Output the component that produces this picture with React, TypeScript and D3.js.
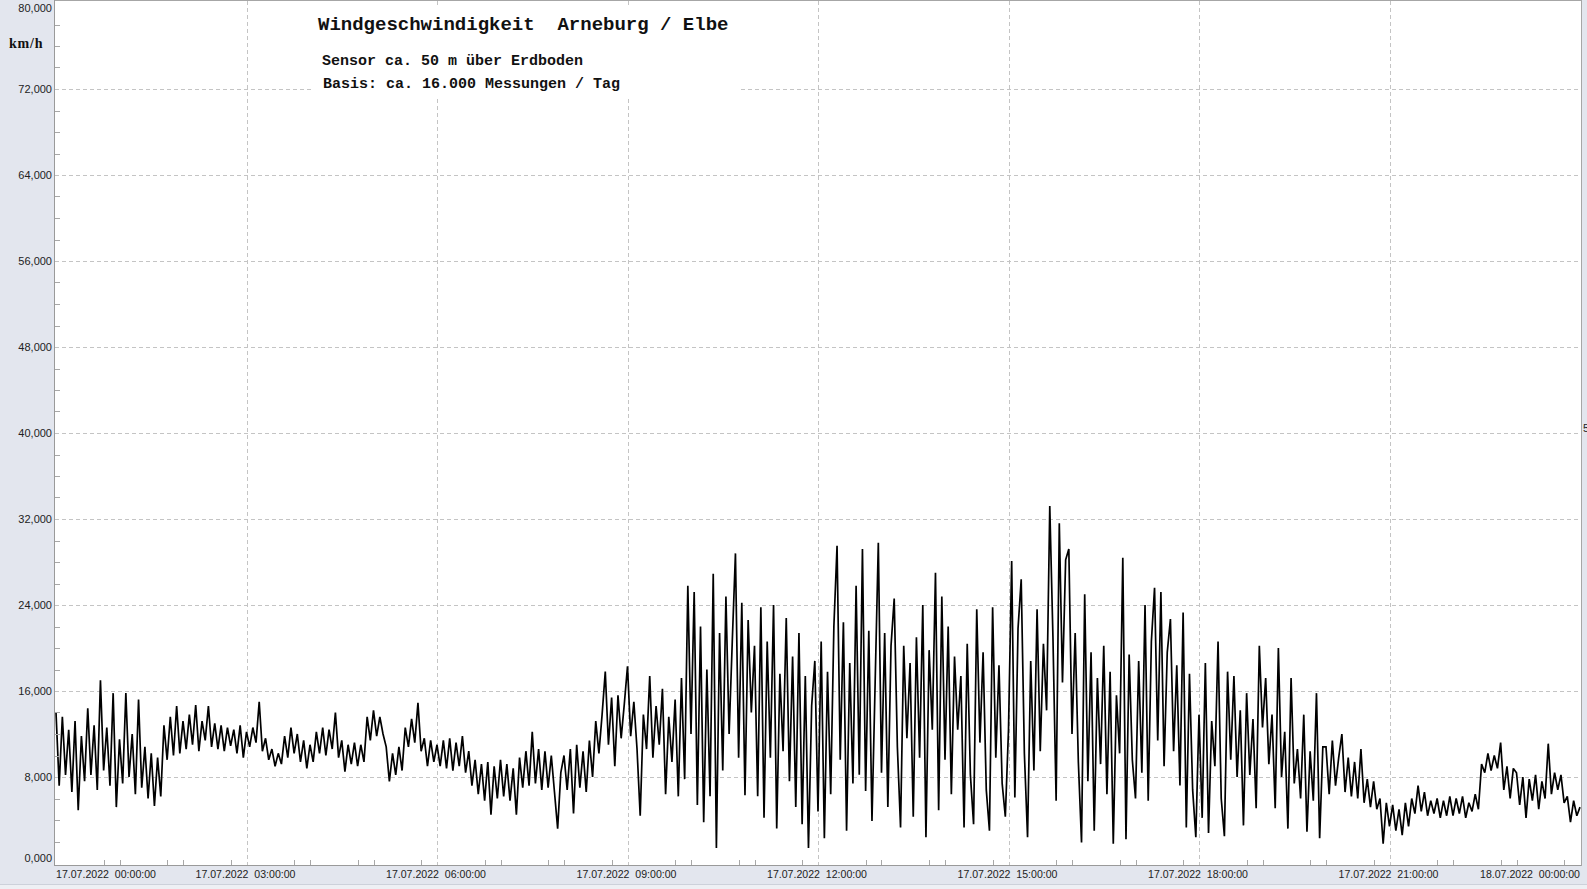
import React from "react";
import * as d3 from "d3";

// Wind speed in km/h, one value every 3 minutes, per 3-hour block (17.07.2022)
const speed00to03 = [
  14.0, 7.2, 13.6, 8.2, 12.4, 6.6, 13.2, 4.9, 11.8, 7.6, 14.4, 8.2, 12.8, 6.8, 17.0, 8.6, 12.6, 7.2, 15.8, 5.2,
  11.5, 7.4, 15.8, 8.0, 12.0, 6.4, 15.2, 7.0, 10.8, 6.0, 10.2, 5.3, 9.8, 6.2, 12.8, 9.6, 13.6, 10.0, 14.6, 10.2,
  13.2, 10.6, 13.8, 11.0, 14.7, 10.4, 13.2, 11.4, 14.6, 10.8, 13.0, 10.6, 12.8, 10.4, 12.6, 10.9, 12.4, 10.2, 12.8, 9.8,
];
const speed03to06 = [
  12.2, 10.8, 12.6, 11.2, 15.0, 10.4, 11.6, 9.6, 10.6, 9.0, 10.2, 9.2, 11.8, 9.8, 12.6, 10.2, 12.0, 9.4, 11.4, 8.8,
  11.0, 9.4, 12.2, 10.2, 12.6, 10.0, 12.4, 10.6, 14.0, 9.8, 11.4, 8.5, 11.0, 9.2, 11.2, 9.0, 11.0, 9.4, 13.6, 11.4,
  14.2, 11.8, 13.6, 12.0, 10.8, 7.6, 10.2, 8.2, 10.8, 8.6, 12.6, 10.8, 13.4, 11.2, 14.9, 10.4, 11.6, 9.0, 11.4, 9.4,
];
const speed06to09 = [
  11.0, 9.0, 11.4, 8.8, 11.6, 8.6, 11.2, 9.0, 11.8, 8.4, 10.4, 7.2, 9.6, 6.4, 9.2, 5.8, 9.4, 4.5, 9.0, 6.0,
  9.6, 6.2, 9.2, 5.8, 8.8, 4.5, 9.8, 7.0, 10.4, 7.2, 12.2, 7.4, 10.6, 6.8, 10.4, 7.0, 10.0, 6.6, 3.2, 8.4,
  10.0, 6.8, 10.6, 4.6, 11.0, 7.0, 10.4, 6.6, 11.4, 8.0, 13.2, 10.2, 13.8, 17.8, 11.0, 15.4, 9.0, 15.6, 11.6, 14.8,
];
const speed09to12 = [
  18.3, 11.8, 15.0, 10.6, 4.4, 13.8, 10.6, 17.4, 9.8, 14.6, 11.0, 16.2, 6.4, 13.6, 9.4, 15.2, 6.2, 17.2, 7.8, 25.8,
  12.0, 25.2, 5.4, 22.0, 3.8, 18.0, 6.2, 26.9, 1.4, 21.4, 8.6, 24.8, 12.0, 20.6, 28.8, 9.8, 24.2, 6.3, 22.6, 14.0,
  20.2, 6.2, 23.8, 4.2, 20.6, 9.8, 24.0, 3.2, 17.6, 10.4, 22.8, 7.6, 19.2, 5.2, 21.4, 3.6, 17.4, 1.4, 14.6, 18.8,
];
const speed12to15 = [
  4.8, 20.6, 2.3, 17.8, 6.4, 22.0, 29.5, 9.6, 22.4, 3.0, 18.6, 7.4, 25.8, 8.2, 29.2, 6.7, 21.6, 3.9, 16.8, 29.8,
  8.4, 21.4, 5.2, 20.2, 24.6, 10.8, 3.3, 20.2, 11.6, 18.6, 4.3, 21.0, 9.8, 24.0, 2.4, 19.8, 12.4, 27.0, 4.9, 24.8,
  9.6, 22.0, 6.4, 19.2, 12.4, 17.4, 3.3, 20.4, 8.2, 3.6, 23.6, 11.2, 19.6, 6.8, 3.0, 23.8, 9.8, 18.4, 7.4, 4.3,
];
const speed15to18 = [
  12.4, 28.1, 6.1, 21.8, 26.4, 10.2, 2.4, 18.8, 8.6, 23.6, 10.4, 20.4, 14.2, 33.2, 21.0, 5.8, 31.6, 16.8, 28.2, 29.2,
  12.0, 21.4, 9.4, 1.9, 25.0, 7.6, 19.6, 3.0, 17.2, 9.2, 20.2, 6.4, 17.8, 1.8, 15.6, 10.2, 28.4, 2.2, 19.4, 9.6,
  6.0, 18.8, 8.4, 24.0, 5.8, 20.6, 25.6, 11.4, 25.2, 9.0, 19.6, 22.7, 10.4, 18.4, 7.2, 23.3, 3.3, 17.6, 6.8, 2.4,
];
const speed18to21 = [
  13.8, 4.2, 18.6, 2.8, 13.2, 9.0, 20.6, 6.0, 2.5, 17.8, 9.6, 17.4, 8.0, 14.2, 3.5, 15.8, 8.2, 13.4, 5.1, 20.2,
  12.6, 17.2, 9.2, 13.8, 5.1, 20.0, 8.0, 12.2, 3.2, 17.2, 7.4, 10.6, 6.0, 13.8, 2.9, 10.4, 5.8, 15.8, 2.3, 10.8,
  10.8, 6.4, 11.4, 7.2, 9.8, 12.0, 6.6, 9.8, 6.2, 9.4, 6.0, 10.6, 5.6, 7.8, 5.2, 7.6, 5.0, 6.0, 1.8, 5.6,
];
const speed21to24 = [
  3.4, 5.4, 3.0, 5.0, 2.6, 5.6, 3.4, 6.0, 4.6, 7.2, 4.8, 6.6, 4.4, 5.8, 4.6, 6.0, 4.2, 5.8, 4.4, 6.2,
  4.4, 6.0, 4.6, 6.2, 4.2, 5.6, 4.8, 6.4, 5.0, 9.2, 8.4, 10.2, 8.6, 10.0, 8.8, 11.2, 6.8, 9.0, 6.0, 8.8,
  8.4, 5.4, 8.0, 4.2, 7.8, 5.8, 8.2, 5.0, 7.6, 6.0, 11.1, 6.4, 8.4, 6.8, 8.2, 5.6, 6.2, 3.8, 5.8, 4.4, 5.2,
];

const blocks = [speed00to03, speed03to06, speed06to09, speed09to12, speed12to15, speed15to18, speed18to21, speed21to24];
const blockStartHours = [0, 3, 6, 9, 12, 15, 18, 21];
const sampleMinutes = 3;

const yTickValues = [0, 8, 16, 24, 32, 40, 48, 56, 64, 72, 80];
const titleText = "Windgeschwindigkeit  Arneburg / Elbe";
const subtitleLines = ["Sensor ca. 50 m über Erdboden", "Basis: ca. 16.000 Messungen / Tag"];
const unitLabel = "km/h";

const W = 1587;
const H = 889;
const PL = 55;
const PR = 1581;
const PT = 1;
const PB = 865;

const t0 = new Date(2022, 6, 17, 0, 0, 0);
const t1 = new Date(2022, 6, 18, 0, 0, 0);

type Pt = { t: Date; v: number };

const data: Pt[] = [];
blocks.forEach((arr, bi) => {
  arr.forEach((v, i) => {
    data.push({ t: new Date(t0.getTime() + (blockStartHours[bi] * 60 + i * sampleMinutes) * 60000), v });
  });
});

const de = d3.formatLocale({ decimal: ",", thousands: ".", grouping: [3], currency: ["", "€"] });
const fmtY = de.format(".3f");
const fmtX = d3.timeFormat("%d.%m.%Y  %H:%M:%S");

export default function App() {
  const x = d3.scaleTime().domain([t0, t1]).range([56, 1580]);
  const y = d3.scaleLinear().domain([0, 80]).range([863, 3]);

  const line = d3
    .line<Pt>()
    .x((d) => x(d.t))
    .y((d) => y(d.v));

  const majorX = d3.timeHour.every(3)!.range(t0, new Date(t1.getTime() + 1));
  const minorX = d3.timeMinute
    .every(45)!
    .range(t0, new Date(t1.getTime() + 1))
    .filter((d) => (d.getHours() * 60 + d.getMinutes()) % 180 !== 0);
  const minorY = d3.range(0, 81, 2).filter((v) => v % 8 !== 0);

  const grid = "#c4c4c4";
  const tickFont = "'Liberation Sans', Arial, sans-serif";

  return (
    <svg width={W} height={H} style={{ position: "absolute", left: 0, top: 0 }}>
      <defs>
        <clipPath id="plotclip">
          <rect x={PL} y={PT} width={PR - PL} height={PB - PT} />
        </clipPath>
      </defs>
      <rect x={0} y={0} width={W} height={H} fill="#e3e6ee" />
      <rect x={0} y={884} width={W} height={5} fill="#eef0f4" />
      <line x1={0} x2={W} y1={884.5} y2={884.5} stroke="#cdd1da" />
      <rect x={PL} y={PT} width={PR - PL} height={PB - PT} fill="#ffffff" />

      {/* horizontal grid */}
      {yTickValues
        .filter((v) => v > 0 && v < 80)
        .map((v) => (
          <line key={"gy" + v} x1={PL} x2={PR} y1={Math.round(y(v)) + 0.5} y2={Math.round(y(v)) + 0.5} stroke={grid} strokeDasharray="4,3" />
        ))}
      {/* vertical grid */}
      {majorX
        .filter((d) => x(d) > 60 && x(d) < 1575)
        .map((d) => (
          <line key={"gx" + d.getTime()} x1={Math.round(x(d)) + 0.5} x2={Math.round(x(d)) + 0.5} y1={PT} y2={PB} stroke={grid} strokeDasharray="4,3" />
        ))}

      {/* title box */}
      <rect x={311} y={5} width={428} height={91} fill="#ffffff" />
      <text x={318} y={30} fontFamily="'Liberation Mono', 'Courier New', monospace" fontWeight="bold" fontSize={19} fill="#111" style={{ whiteSpace: "pre" }}>
        {titleText}
      </text>
      <text x={322} y={65} fontFamily="'Liberation Mono', 'Courier New', monospace" fontWeight="bold" fontSize={15} fill="#111" style={{ whiteSpace: "pre" }}>
        {subtitleLines[0]}
      </text>
      <text x={323} y={88} fontFamily="'Liberation Mono', 'Courier New', monospace" fontWeight="bold" fontSize={15} fill="#111" style={{ whiteSpace: "pre" }}>
        {subtitleLines[1]}
      </text>

      {/* data */}
      <path d={line(data) || ""} fill="none" stroke="#000" strokeWidth={1.7} strokeLinejoin="miter" strokeMiterlimit={2} clipPath="url(#plotclip)" />

      {/* y minor ticks */}
      {minorY.map((v) => (
        <line key={"my" + v} x1={PL} x2={PL + 5} y1={Math.round(y(v)) + 0.5} y2={Math.round(y(v)) + 0.5} stroke="#a8a8a8" />
      ))}
      {/* x minor ticks */}
      {minorX.map((d) => (
        <line key={"mx" + d.getTime()} x1={Math.round(x(d)) + 0.5} x2={Math.round(x(d)) + 0.5} y1={PB - 5} y2={PB} stroke="#a8a8a8" />
      ))}

      {/* frame */}
      <line x1={PL - 0.5} x2={PL - 0.5} y1={0} y2={PB + 1} stroke="#9a9a9a" />
      <line x1={PL} x2={PR} y1={0.5} y2={0.5} stroke="#a6a6a6" />
      <line x1={PR + 0.5} x2={PR + 0.5} y1={0} y2={PB + 1} stroke="#a6a6a6" />
      <line x1={PL} x2={PR} y1={PB + 0.5} y2={PB + 0.5} stroke="#9a9a9a" />

      {/* y labels */}
      {yTickValues.map((v) => {
        let yy = y(v) + 4;
        if (v === 80) yy = 12;
        if (v === 0) yy = 862;
        return (
          <text key={"ly" + v} x={52} y={yy} textAnchor="end" fontFamily={tickFont} fontSize={11} fill="#222">
            {fmtY(v)}
          </text>
        );
      })}
      <text x={9} y={48} fontFamily="'Liberation Serif', 'Times New Roman', serif" fontWeight="bold" fontSize={14} letterSpacing={0.8} fill="#111">
        {unitLabel}
      </text>
      <text x={1583} y={432} fontFamily={tickFont} fontSize={11} fill="#222">
        5
      </text>

      {/* x labels */}
      {majorX.map((d) => {
        let cx = x(d) - 1;
        const half = 50;
        if (cx - half < 56) cx = 56 + half;
        if (cx + half > 1580) cx = 1580 - half;
        return (
          <text
            key={"lx" + d.getTime()}
            x={cx - half}
            y={878}
            fontFamily={tickFont}
            fontSize={10.5}
            fill="#222"
            textLength={100}
            lengthAdjust="spacingAndGlyphs"
            style={{ whiteSpace: "pre" }}
          >
            {fmtX(d)}
          </text>
        );
      })}
    </svg>
  );
}
